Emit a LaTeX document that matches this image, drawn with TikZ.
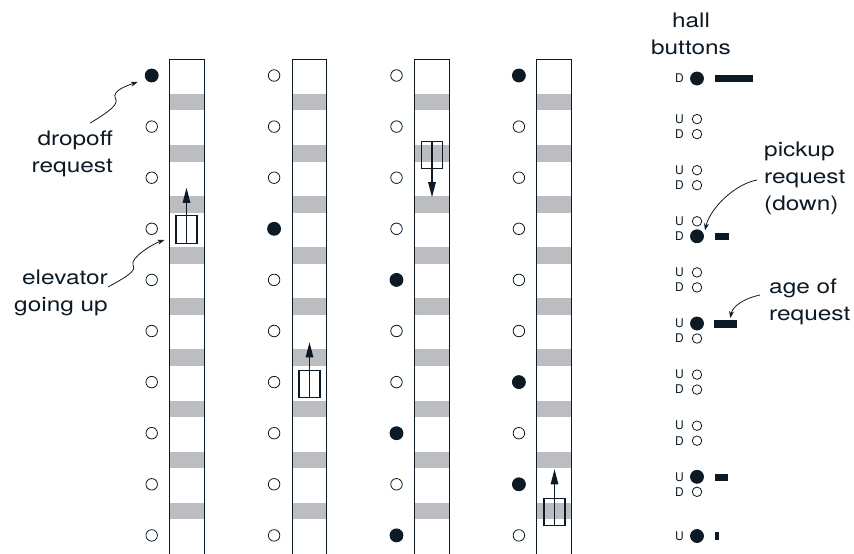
\documentclass[tikz,border=0pt]{standalone}
\usepackage{fontspec}
\setmainfont{TeX Gyre Heros}
\newfontfamily\lblfont[FakeStretch=1.22]{TeX Gyre Heros}
\usetikzlibrary{arrows.meta, positioning, calc}
\definecolor{InkLine}{RGB}{12,26,38}
\definecolor{BandFill}{RGB}{188,189,193}

\begin{document}
\begin{tikzpicture}[x=1pt, y=-1pt,
    shaftline/.style={draw=InkLine, line width=1.1pt},
    band/.style={fill=BandFill},
    lamp/.style={
        circle, draw=InkLine, line width=0.8pt, fill=white,
        minimum size=11.5pt, inner sep=0pt
    },
    lampon/.style={lamp, fill=InkLine, minimum size=13pt},
    hlamp/.style={lamp, minimum size=9.5pt},
    hlampon/.style={lampon, minimum size=13pt},
    udlbl/.style={font=\fontsize{12}{13}\selectfont, text=InkLine,
        inner sep=0pt, anchor=center},
    agebar/.style={rectangle, fill=InkLine, inner sep=0pt,
        minimum height=7.5pt, anchor=west},
    car/.style={
        rectangle, draw=InkLine, line width=1.1pt,
        minimum width=21pt, minimum height=27.5pt, inner sep=0pt
    },
    carpath/.style={-{Triangle[length=15pt, width=7.5pt]}, InkLine,
        line width=1.1pt},
    note/.style={font=\lblfont\fontsize{20}{27}\selectfont,
        text=InkLine, inner sep=0pt},
    notearr/.style={-{Stealth[length=7pt, width=5pt]}, InkLine,
        line width=0.8pt}
]
\useasboundingbox (0,0) rectangle (854,554);

% ===================================================================
% SHAFTS: gray floor bands, walls, floor lamps
% ===================================================================
\foreach \s in {1,...,4} {
    \pgfmathsetmacro\sx{169.7+122.4*(\s-1)}
    \foreach \f in {1,...,9} {
        \pgfmathsetmacro\by{75.5+51.1*(\f-1)+26.7}
        \fill[band] (\sx,\by-8.25) rectangle (\sx+34.7,\by+8.25);
    }
    \draw[shaftline] (\sx,554) -- (\sx,59.5) -- (\sx+34.7,59.5)
        -- (\sx+34.7,554);
    \foreach \f in {1,...,10} {
        \pgfmathsetmacro\fy{75.5+51.1*(\f-1)}
        \node[lamp] (s\s-\f) at (\sx-18,\fy) {};
    }
}

% lit floor lamps
\foreach \s/\f in {1/1, 2/4, 3/5, 3/8, 3/10, 4/1, 4/7, 4/9}
    \node[lampon] at (s\s-\f) {};

% ===================================================================
% CARS
% ===================================================================
\node[car] (car1) at (186.5,229.5) {};
\node[car] (car2) at (309.5,384) {};
\node[car] (car3) at (432,155) {};
\node[car] (car4) at (554.5,512) {};

\draw[carpath] (car1.south) -- ++(0,-56);
\draw[carpath] (car2.south) -- ++(0,-56);
\draw[carpath] (car3.north) -- ++(0,56.5);
\draw[carpath] (car4.south) -- ++(0,-57);

% ===================================================================
% HALL BUTTONS
% ===================================================================
\node[note, align=center, anchor=north] (hall) at (691,13)
    {hall\\buttons};

\foreach \f in {2,...,9} {
    \pgfmathsetmacro\fy{75.5+51.1*(\f-1)}
    \node[udlbl] at (679.5,\fy-7.5) {U};
    \node[udlbl] at (679.5,\fy+7.5) {D};
    \node[hlamp] (hu\f) at (697,\fy-7.5) {};
    \node[hlamp] (hd\f) at (697,\fy+7.5) {};
}
\node[udlbl] at (679.5,78.5) {D};
\node[hlampon] (hd1) at (697,78.5) {};
\node[udlbl] at (679.5,536) {U};
\node[hlampon] (hu10) at (697,536) {};

% lit hall buttons
\node[hlampon] at (hd4) {};
\node[hlampon] at (hu6) {};
\node[hlampon] at (hu9) {};

% age bars
\node[agebar, minimum width=38pt] (age1) at (715,78.7) {};
\node[agebar, minimum width=14pt] (age4) at (715,236.5) {};
\node[agebar, minimum width=23pt] (age6) at (714,324) {};
\node[agebar, minimum width=13pt] (age9) at (715,477.5) {};
\node[agebar, minimum width=3.5pt] (age10) at (715,536) {};

% ===================================================================
% ANNOTATIONS
% ===================================================================
\node[note, align=right, anchor=north east] (dropoff) at (113,131)
    {dropoff\\request};
\draw[notearr] ($(dropoff.north)+(18,-8)$)
    .. controls +(20,-12) and +(4,6) .. ++(25,-25)
    .. controls +(-3,-7) and +(-12,4) .. ($(s1-1)+(-14,6.5)$);

\node[note, align=right, anchor=north east] (elevator) at (108,269.5)
    {elevator\\going up};
\draw[notearr] ($(elevator.north east)+(0,17.5)$)
    .. controls +(18,-10) and +(4,6) .. ++(25,-22)
    .. controls +(-3,-7) and +(-12,4) .. ($(car1.west)+(-11,10.5)$);

\node[note, align=left, anchor=north west] (pickup) at (764,142)
    {pickup\\request\\(down)};
\draw[notearr] ($(pickup.north west)+(-7,38)$)
    .. controls +(-22,4) and +(5,-22) .. ($(hd4)+(8,-6)$);

\node[note, align=left, anchor=north west] (agereq) at (769,279)
    {age of\\request};
\draw[notearr] ($(agereq.north west)+(-9,16)$)
    .. controls +(-15,3) and +(2,-12) .. ($(age6.north east)+(-7,-2)$);

\end{tikzpicture}
\end{document}
